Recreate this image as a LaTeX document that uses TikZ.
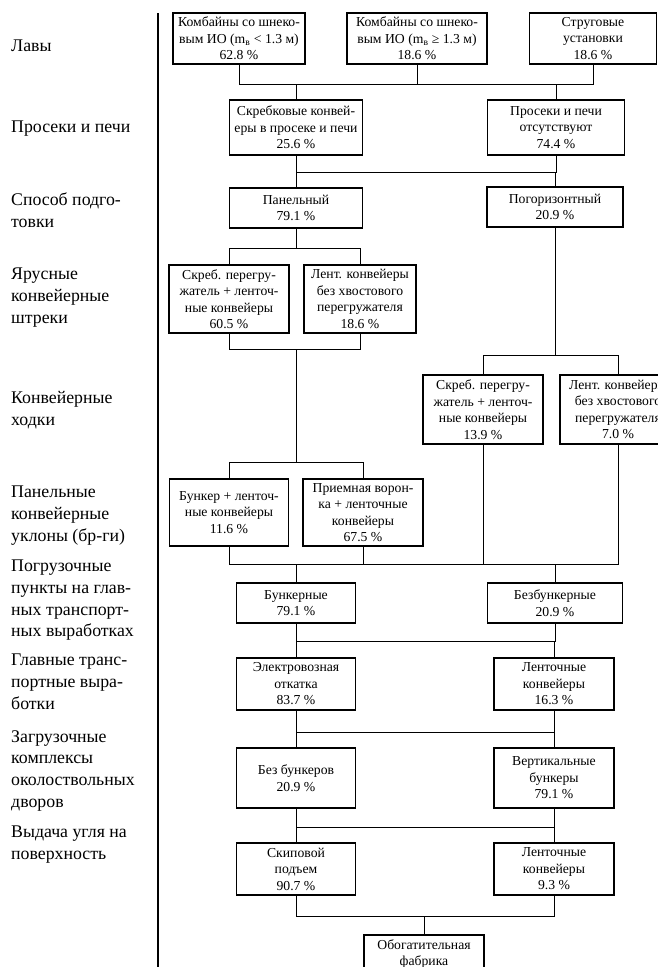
\documentclass[tikz,border=0pt]{standalone}
\usepackage{fontspec}
\setmainfont{Liberation Serif}
\begin{document}
\begin{tikzpicture}[x=1pt,y=-1pt,
  box/.style={draw, line width=1.2pt, align=center, inner sep=1pt,
    font=\fontsize{13.7}{16.5}\selectfont},
  lab/.style={anchor=north west, align=left, inner sep=0pt,
    font=\fontsize{17.8}{21.7}\selectfont},
  conn/.style={line width=1pt}]
\clip (0,0) rectangle (658,967);
\fill[white] (0,0) rectangle (658,967);

% left column labels
\node[lab] (L1) at (11,40) {Лавы};
\node[lab] (L2) at (11,121) {Просеки и печи};
\node[lab] (L3) at (11,193) {Способ подго-\\товки};
\node[lab] (L4) at (11,268) {Ярусные\\конвейерные\\штреки};
\node[lab] (L5) at (11,391) {Конвейерные\\ходки};
\node[lab] (L6) at (11,486) {Панельные\\конвейерные\\уклоны (бр-ги)};
\node[lab] (L7) at (11,560) {Погрузочные\\пункты на глав-\\ных транспорт-\\ных выработках};
\node[lab] (L8) at (11,654) {Главные транс-\\портные выра-\\ботки};
\node[lab] (L9) at (11,730) {Загрузочные\\комплексы\\околоствольных\\дворов};
\node[lab] (L10) at (11,826) {Выдача угля на\\поверхность};

% separator
\coordinate (s1) at (158,13);
\coordinate (s2) at (158,970);
\draw[line width=1.1pt] (s1) -- (s2);

% boxes
\node[box, minimum width=132pt, minimum height=51pt] (A1) at (239,38.5) {Комбайны со шнеко-\\вым ИО (m\textsubscript{в} < 1.3 м)\\62.8 \%};
\node[box, minimum width=140pt, minimum height=51pt] (A2) at (417,38.5) {Комбайны со шнеко-\\вым ИО (m\textsubscript{в} ≥ 1.3 м)\\18.6 \%};
\node[box, minimum width=127pt, minimum height=51pt] (A3) at (593,38.5) {Струговые\\установки\\18.6 \%};

\node[box, minimum width=133pt, minimum height=55pt] (B1) at (296,127.5) {Скребковые конвей-\\еры в просеке и печи\\25.6 \%};
\node[box, minimum width=137pt, minimum height=55pt] (B2) at (556,127.5) {Просеки и печи\\отсутствуют\\74.4 \%};

\node[box, minimum width=133pt, minimum height=40pt] (C1) at (296,208) {Панельный\\79.1 \%};
\node[box, minimum width=136pt, minimum height=40pt] (C2) at (555,207) {Погоризонтный\\20.9 \%};

\node[box, minimum width=120pt, minimum height=68pt] (D1) at (229,299) {Скреб. перегру-\\жатель + ленточ-\\ные конвейеры\\60.5 \%};
\node[box, minimum width=112pt, minimum height=68pt] (D2) at (360,299) {Лент. конвейеры\\без хвостового\\перегружателя\\18.6 \%};

\node[box, minimum width=120pt, minimum height=69pt] (F1) at (483,409.5) {Скреб. перегру-\\жатель + ленточ-\\ные конвейеры\\13.9 \%};
\node[box, minimum width=116pt, minimum height=69pt] (F2) at (618,409.5) {Лент. конвейеры\\без хвостового\\перегружателя\\7.0 \%};

\node[box, minimum width=119pt, minimum height=67pt] (E1) at (229,512.5) {Бункер + ленточ-\\ные конвейеры\\11.6 \%};
\node[box, minimum width=120pt, minimum height=67pt] (E2) at (363,512.5) {Приемная ворон-\\ка + ленточные\\конвейеры\\67.5 \%};

\node[box, minimum width=119pt, minimum height=40pt] (G1) at (296,603) {Бункерные\\79.1 \%};
\node[box, minimum width=135pt, minimum height=40pt] (G2) at (555,603) {Безбункерные\\20.9 \%};

\node[box, minimum width=119pt, minimum height=52pt] (H1) at (296,684) {Электровозная\\откатка\\83.7 \%};
\node[box, minimum width=120pt, minimum height=52pt] (H2) at (554,684) {Ленточные\\конвейеры\\16.3 \%};

\node[box, minimum width=119pt, minimum height=60pt] (I1) at (296,778) {Без бункеров\\20.9 \%};
\node[box, minimum width=120pt, minimum height=60pt] (I2) at (554,778) {Вертикальные\\бункеры\\79.1 \%};

\node[box, minimum width=119pt, minimum height=52pt] (J1) at (296,869) {Скиповой\\подъем\\90.7 \%};
\node[box, minimum width=120pt, minimum height=52pt] (J2) at (554,869) {Ленточные\\конвейеры\\9.3 \%};

\node[box, minimum width=120pt, minimum height=38pt] (K) at (424,954) {Обогатительная\\фабрика};

% bus levels
\coordinate (y1) at (0,84);
\coordinate (y2) at (0,172);
\coordinate (y3) at (0,248);
\coordinate (y4) at (0,349);
\coordinate (y5) at (0,462);
\coordinate (r1) at (0,355);
\coordinate (y6) at (0,564);
\coordinate (y7) at (0,641);
\coordinate (y8) at (0,732);
\coordinate (y9) at (0,827);
\coordinate (y10) at (0,916);

% connectors
\draw[conn] (A1.south) -- (A1.south |- y1) -- (A3.south |- y1) -- (A3.south);
\draw[conn] (A2.south) -- (A2.south |- y1);
\draw[conn] (B1.north) -- (B1.north |- y1);
\draw[conn] (B2.north) -- (B2.north |- y1);

\draw[conn] (B1.south) -- (B1.south |- y2) -- (B2.south |- y2) -- (B2.south);
\draw[conn] (C1.north) -- (C1.north |- y2);
\draw[conn] (C2.north) -- (C2.north |- y2);

\draw[conn] (C1.south) -- (C1.south |- y3);
\draw[conn] (D1.north) -- (D1.north |- y3) -- (D2.north |- y3) -- (D2.north);

\draw[conn] (D1.south) -- (D1.south |- y4) -- (D2.south |- y4) -- (D2.south);
\draw[conn] (C1.south |- y4) -- (C1.south |- y5);
\draw[conn] (E1.north) -- (E1.north |- y5) -- (E2.north |- y5) -- (E2.north);

\draw[conn] (C2.south) -- (C2.south |- r1);
\draw[conn] (F1.north) -- (F1.north |- r1) -- (F2.north |- r1) -- (F2.north);

\draw[conn] (E1.south) -- (E1.south |- y6) -- (F2.south |- y6) -- (F2.south);
\draw[conn] (E2.south) -- (E2.south |- y6);
\draw[conn] (F1.south) -- (F1.south |- y6);
\draw[conn] (G1.north) -- (G1.north |- y6);
\draw[conn] (G2.north) -- (G2.north |- y6);

\draw[conn] (G1.south) -- (G1.south |- y7) -- (G2.south |- y7) -- (G2.south);
\draw[conn] (H1.north) -- (H1.north |- y7);
\draw[conn] (H2.north) -- (H2.north |- y7);

\draw[conn] (H1.south) -- (H1.south |- y8) -- (H2.south |- y8) -- (H2.south);
\draw[conn] (I1.north) -- (I1.north |- y8);
\draw[conn] (I2.north) -- (I2.north |- y8);

\draw[conn] (I1.south) -- (I1.south |- y9) -- (I2.south |- y9) -- (I2.south);
\draw[conn] (J1.north) -- (J1.north |- y9);
\draw[conn] (J2.north) -- (J2.north |- y9);

\draw[conn] (J1.south) -- (J1.south |- y10) -- (J2.south |- y10) -- (J2.south);
\draw[conn] (K.north) -- (K.north |- y10);
\end{tikzpicture}
\end{document}
